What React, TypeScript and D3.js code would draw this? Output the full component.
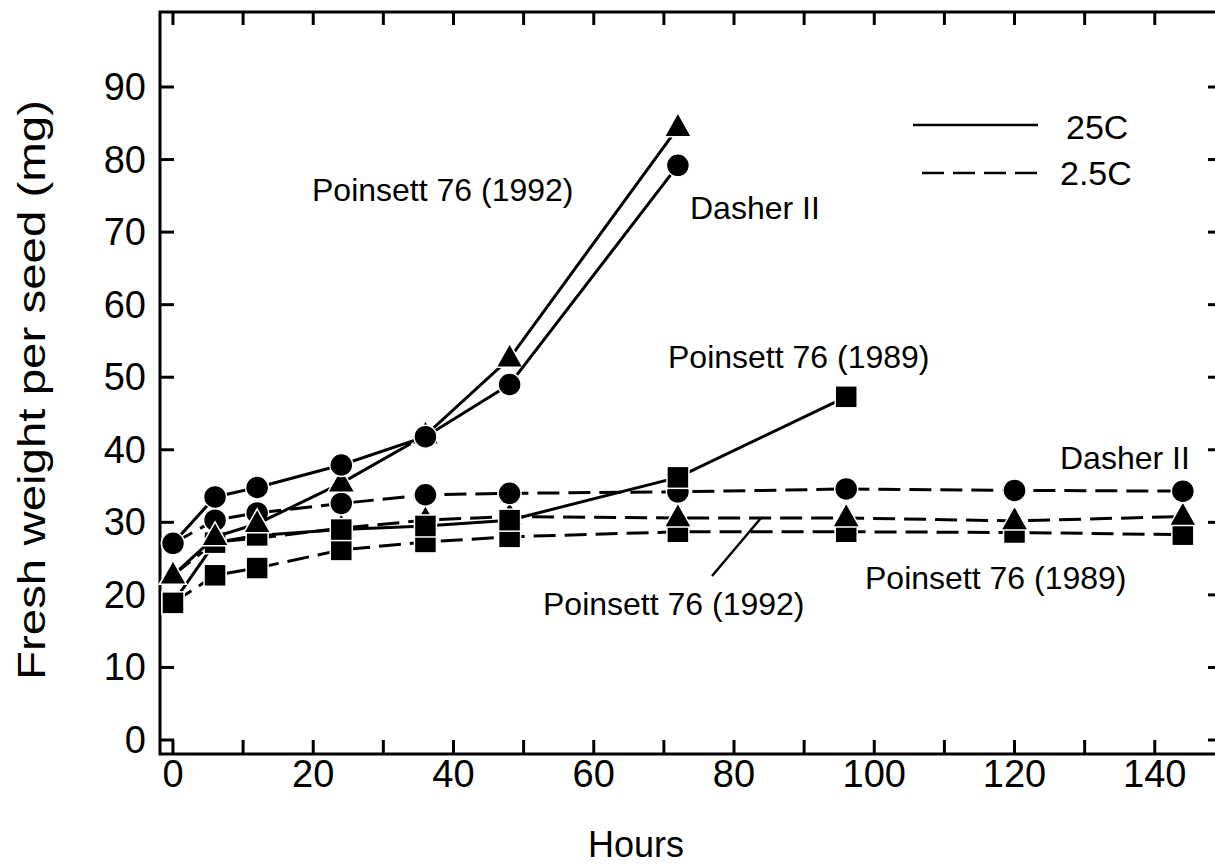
import React from 'react';
import * as d3 from 'd3';

// hours sampled at each temperature
const hoursWarm = [0, 6, 12, 24, 36, 48, 72];
const hoursWarm89 = [0, 6, 12, 24, 36, 48, 72, 96];
const hoursCold = [0, 6, 12, 24, 36, 48, 72, 96, 120, 144];

// fresh weight per seed (mg), 25C
const dasherWarm = [27.1, 33.5, 34.8, 37.9, 41.8, 49.0, 79.2];
const p92Warm = [22.7, 28.0, 29.8, 35.4, 42.0, 52.6, 84.4];
const p89Warm = [18.9, 27.2, 28.2, 29.0, 29.5, 30.3, 36.2, 47.3];

// fresh weight per seed (mg), 2.5C
const dasherCold = [27.1, 30.3, 31.3, 32.6, 33.8, 34.0, 34.2, 34.6, 34.4, 34.3];
const p92Cold = [22.7, 27.3, 27.8, 29.2, 30.3, 30.8, 30.6, 30.6, 30.2, 30.8];
const p89Cold = [18.9, 22.7, 23.7, 26.2, 27.3, 28.0, 28.7, 28.7, 28.6, 28.3];

const xTickLabels = [0, 20, 40, 60, 80, 100, 120, 140];
const yTickLabels = [0, 10, 20, 30, 40, 50, 60, 70, 80, 90];
const minorX = d3.range(0, 150, 10);

const FONT = '"Liberation Sans", Arial, Helvetica, sans-serif';

const left = 160, right = 1220, top = 12, bottom = 754;

type Shape = 'circle' | 'triangle' | 'square';

const series: { hours: number[]; values: number[]; shape: Shape; dashed: boolean }[] = [
  { hours: hoursCold, values: p89Cold, shape: 'square', dashed: true },
  { hours: hoursCold, values: p92Cold, shape: 'triangle', dashed: true },
  { hours: hoursCold, values: dasherCold, shape: 'circle', dashed: true },
  { hours: hoursWarm89, values: p89Warm, shape: 'square', dashed: false },
  { hours: hoursWarm, values: p92Warm, shape: 'triangle', dashed: false },
  { hours: hoursWarm, values: dasherWarm, shape: 'circle', dashed: false },
];

const Marker = ({ shape, cx, cy }: { shape: Shape; cx: number; cy: number }) => {
  const st = { fill: '#000', stroke: '#fff', strokeWidth: 1.5 };
  if (shape === 'circle') return <circle cx={cx} cy={cy} r={11.5} {...st} />;
  if (shape === 'square') return <rect x={cx - 11} y={cy - 11} width={22} height={22} {...st} />;
  return <path d={`M${cx},${cy - 15}L${cx + 13.5},${cy + 9}L${cx - 13.5},${cy + 9}Z`} {...st} />;
};

export default function App() {
  const x = d3.scaleLinear().domain([-1.85, 149.3]).range([left, right]);
  const y = d3.scaleLinear().domain([0, 90]).range([740, 87]);
  const line = d3.line<[number, number]>().x(d => x(d[0])).y(d => y(d[1]));

  return (
    <svg width={1215} height={865} style={{ position: 'absolute', left: 0, top: 0, background: '#fff' }}>
      <g stroke="#000" strokeWidth={3} fill="none">
        <rect x={left} y={top} width={right - left} height={bottom - top} />
        {minorX.map(t => (
          <g key={'x' + t}>
            <line x1={x(t)} x2={x(t)} y1={top} y2={top + 13} />
            <line x1={x(t)} x2={x(t)} y1={bottom} y2={bottom - 14} />
          </g>
        ))}
        {yTickLabels.map(t => (
          <g key={'y' + t}>
            <line x1={left} x2={left + 14} y1={y(t)} y2={y(t)} />
            <line x1={right} x2={right - 12} y1={y(t)} y2={y(t)} />
          </g>
        ))}
      </g>

      <g fontFamily={FONT} fontSize={38} fill="#000">
        {xTickLabels.map(t => (
          <text key={t} x={x(t)} y={787} textAnchor="middle">{t}</text>
        ))}
        {yTickLabels.map(t => (
          <text key={t} x={146} y={y(t) + 13} textAnchor="end">{t}</text>
        ))}
        <text x={636} y={857} fontSize={36} textAnchor="middle">Hours</text>
        <text transform="translate(45,390) rotate(-90)" textAnchor="middle"
          textLength={580} lengthAdjust="spacingAndGlyphs">Fresh weight per seed (mg)</text>
      </g>

      {series.map((s, i) => (
        <g key={i}>
          <path d={line(s.hours.map((h, j) => [h, s.values[j]]) as [number, number][]) || ''}
            fill="none" stroke="#000" strokeWidth={3}
            strokeDasharray={s.dashed ? '22,9' : undefined} />
          {s.hours.map((h, j) => (
            <Marker key={j} shape={s.shape} cx={x(h)} cy={y(s.values[j])} />
          ))}
        </g>
      ))}

      {/* leader line for lower Poinsett 76 (1992) label */}
      <line x1={761} y1={518} x2={712} y2={576} stroke="#000" strokeWidth={2.5} />

      <g fontFamily={FONT} fontSize={32} fill="#000">
        <text x={312} y={201}>Poinsett 76 (1992)</text>
        <text x={690} y={219}>Dasher II</text>
        <text x={668} y={368}>Poinsett 76 (1989)</text>
        <text x={1060} y={469}>Dasher II</text>
        <text x={865} y={589}>Poinsett 76 (1989)</text>
        <text x={543} y={615}>Poinsett 76 (1992)</text>
      </g>

      <g>
        <line x1={913} x2={1038} y1={125} y2={125} stroke="#000" strokeWidth={2.5} />
        <line x1={922} x2={1038} y1={173} y2={173} stroke="#000" strokeWidth={2.5} strokeDasharray="22,9" />
        <text x={1066} y={139} fontFamily={FONT} fontSize={34}>25C</text>
        <text x={1060} y={185} fontFamily={FONT} fontSize={34}>2.5C</text>
      </g>
    </svg>
  );
}
